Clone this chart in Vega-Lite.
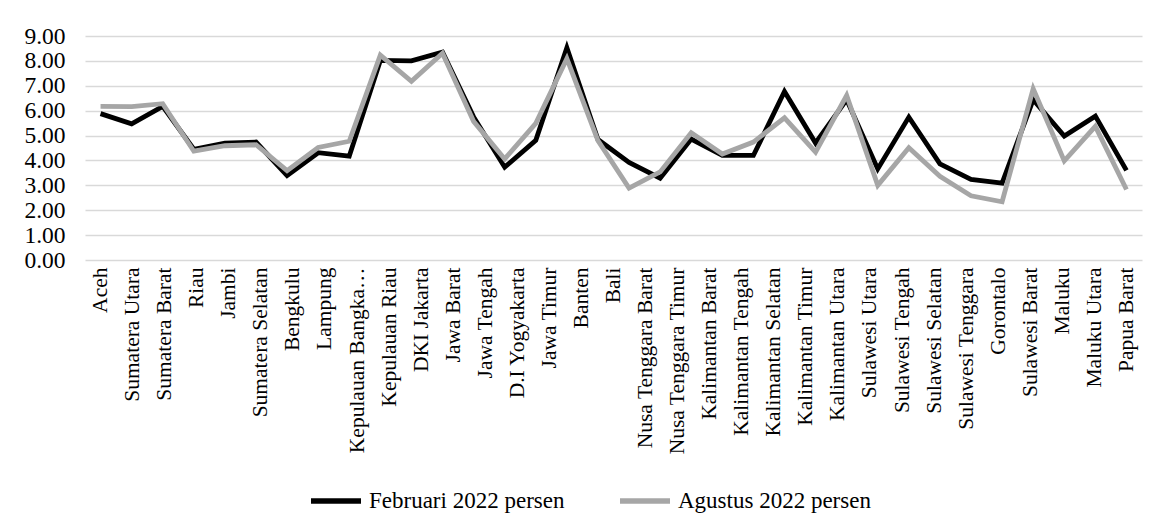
{
  "$schema": "https://vega.github.io/schema/vega-lite/v6.json",
  "autosize": {"type": "none"},
  "width": 1057,
  "height": 224,
  "padding": {"left": 85, "right": 23, "top": 36, "bottom": 272},
  "background": "white",
  "config": {
    "font": "Liberation Serif",
    "view": {"stroke": null},
    "axis": {"labelFont": "Liberation Serif", "labelColor": "#000000"},
    "legend": {"labelFont": "Liberation Serif", "labelColor": "#000000"}
  },
  "datasets": {
    "tpt": [
      {"provinsi": "Aceh", "februari": 5.88, "agustus": 6.17},
      {"provinsi": "Sumatera Utara", "februari": 5.47, "agustus": 6.16},
      {"provinsi": "Sumatera Barat", "februari": 6.17, "agustus": 6.28},
      {"provinsi": "Riau", "februari": 4.45, "agustus": 4.37},
      {"provinsi": "Jambi", "februari": 4.70, "agustus": 4.59},
      {"provinsi": "Sumatera Selatan", "februari": 4.74, "agustus": 4.63},
      {"provinsi": "Bengkulu", "februari": 3.39, "agustus": 3.59},
      {"provinsi": "Lampung", "februari": 4.31, "agustus": 4.52},
      {"provinsi": "Kepulauan Bangka Belitung", "februari": 4.17, "agustus": 4.77},
      {"provinsi": "Kepulauan Riau", "februari": 8.02, "agustus": 8.23},
      {"provinsi": "DKI Jakarta", "februari": 8.00, "agustus": 7.18},
      {"provinsi": "Jawa Barat", "februari": 8.35, "agustus": 8.31},
      {"provinsi": "Jawa Tengah", "februari": 5.75, "agustus": 5.57},
      {"provinsi": "D.I Yogyakarta", "februari": 3.73, "agustus": 4.06},
      {"provinsi": "Jawa Timur", "februari": 4.81, "agustus": 5.49},
      {"provinsi": "Banten", "februari": 8.53, "agustus": 8.09},
      {"provinsi": "Bali", "februari": 4.84, "agustus": 4.80},
      {"provinsi": "Nusa Tenggara Barat", "februari": 3.92, "agustus": 2.89},
      {"provinsi": "Nusa Tenggara Timur", "februari": 3.29, "agustus": 3.54},
      {"provinsi": "Kalimantan Barat", "februari": 4.86, "agustus": 5.11},
      {"provinsi": "Kalimantan Tengah", "februari": 4.20, "agustus": 4.26},
      {"provinsi": "Kalimantan Selatan", "februari": 4.20, "agustus": 4.74},
      {"provinsi": "Kalimantan Timur", "februari": 6.77, "agustus": 5.71},
      {"provinsi": "Kalimantan Utara", "februari": 4.70, "agustus": 4.33},
      {"provinsi": "Sulawesi Utara", "februari": 6.44, "agustus": 6.61},
      {"provinsi": "Sulawesi Tengah", "februari": 3.66, "agustus": 3.00},
      {"provinsi": "Sulawesi Selatan", "februari": 5.74, "agustus": 4.51},
      {"provinsi": "Sulawesi Tenggara", "februari": 3.86, "agustus": 3.36},
      {"provinsi": "Gorontalo", "februari": 3.24, "agustus": 2.58},
      {"provinsi": "Sulawesi Barat", "februari": 3.09, "agustus": 2.34},
      {"provinsi": "Maluku", "februari": 6.44, "agustus": 6.88},
      {"provinsi": "Maluku Utara", "februari": 4.98, "agustus": 3.98},
      {"provinsi": "Papua Barat", "februari": 5.78, "agustus": 5.37},
      {"provinsi": "Papua", "februari": 3.60, "agustus": 2.83}
    ],
    "labels": [
      {"label": "Aceh"},
      {"label": "Sumatera  Utara"},
      {"label": "Sumatera Barat"},
      {"label": "Riau"},
      {"label": "Jambi"},
      {"label": "Sumatera Selatan"},
      {"label": "Bengkulu"},
      {"label": "Lampung"},
      {"label": "Kepulauan Bangka…"},
      {"label": "Kepulauan Riau"},
      {"label": "DKI Jakarta"},
      {"label": "Jawa Barat"},
      {"label": "Jawa Tengah"},
      {"label": "D.I Yogyakarta"},
      {"label": "Jawa Timur"},
      {"label": "Banten"},
      {"label": "Bali"},
      {"label": "Nusa Tenggara Barat"},
      {"label": "Nusa Tenggara Timur"},
      {"label": "Kalimantan Barat"},
      {"label": "Kalimantan Tengah"},
      {"label": "Kalimantan Selatan"},
      {"label": "Kalimantan Timur"},
      {"label": "Kalimantan Utara"},
      {"label": "Sulawesi Utara"},
      {"label": "Sulawesi Tengah"},
      {"label": "Sulawesi Selatan"},
      {"label": "Sulawesi Tenggara"},
      {"label": "Gorontalo"},
      {"label": "Sulawesi Barat"},
      {"label": "Maluku"},
      {"label": "Maluku Utara"},
      {"label": "Papua Barat"}
    ]
  },
  "layer": [
    {
      "data": {"name": "tpt"},
      "layer": [
        {
          "mark": {"type": "line", "strokeWidth": 4.8, "strokeJoin": "miter"},
          "encoding": {
            "x": {"field": "provinsi", "type": "nominal", "sort": null,
                  "scale": {"type": "point", "padding": 0.5}, "axis": null},
            "y": {"field": "februari", "type": "quantitative",
                  "scale": {"domain": [0, 9], "nice": false},
                  "axis": {"title": null, "values": [0,1,2,3,4,5,6,7,8,9], "format": ".2f",
                           "labelFontSize": 23.5, "labelPadding": 20, "labelOverlap": false,
                           "ticks": false, "domain": false,
                           "grid": true, "gridColor": "#d9d9d9", "gridWidth": 1.5}},
            "color": {"datum": "Februari 2022 persen", "type": "nominal",
                      "scale": {"domain": ["Februari 2022 persen", "Agustus 2022 persen"], "range": ["#000000", "#a6a6a6"]},
                      "legend": {"title": null, "orient": "none", "legendX": 223, "legendY": 437,
                                 "direction": "horizontal",
                                 "symbolType": "stroke", "symbolStrokeWidth": 5.5, "symbolSize": 2500,
                                 "labelFontSize": 23, "labelLimit": 400,
                                 "columnPadding": 44, "labelOffset": 5}}
          }
        },
        {
          "mark": {"type": "line", "strokeWidth": 4.8, "strokeJoin": "miter"},
          "encoding": {
            "x": {"field": "provinsi", "type": "nominal", "sort": null,
                  "scale": {"type": "point", "padding": 0.5}, "axis": null},
            "y": {"field": "agustus", "type": "quantitative",
                  "scale": {"domain": [0, 9], "nice": false},
                  "axis": {"title": null, "values": [0,1,2,3,4,5,6,7,8,9], "format": ".2f",
                           "labelFontSize": 23.5, "labelPadding": 20, "labelOverlap": false,
                           "ticks": false, "domain": false,
                           "grid": true, "gridColor": "#d9d9d9", "gridWidth": 1.5}},
            "color": {"datum": "Agustus 2022 persen", "type": "nominal"}
          }
        }
      ]
    },
    {
      "data": {"name": "labels"},
      "mark": {"type": "point", "opacity": 0},
      "encoding": {
        "x": {"field": "label", "type": "nominal", "sort": null,
              "scale": {"type": "point", "padding": 0.4848},
              "axis": {"title": null, "labelAngle": -90, "labelFontSize": 21.5, "labelPadding": 7,
                       "labelOverlap": false,
                       "ticks": false, "domain": false, "grid": false, "labelLimit": 300}}
      }
    }
  ],
  "resolve": {"scale": {"x": "independent"}, "axis": {"x": "independent"}}
}
